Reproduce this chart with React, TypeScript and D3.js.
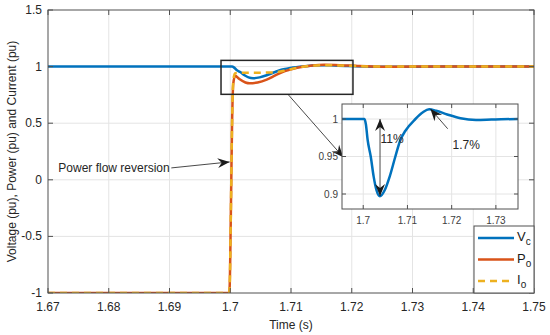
import React, { useEffect, useRef } from "react";
import * as d3 from "d3";

// axis ticks
const xTicks = [1.67, 1.68, 1.69, 1.7, 1.71, 1.72, 1.73, 1.74, 1.75];
const yTicks = [-1, -0.5, 0, 0.5, 1, 1.5];
const insetXTicks = [1.7, 1.71, 1.72, 1.73];
const insetYTicks = [0.9, 0.95, 1];

// Vc (capacitor voltage)
const vcTime = [1.67, 1.7003, 1.7006, 1.701, 1.7017, 1.70235, 1.703, 1.70377, 1.70485, 1.706, 1.70727, 1.7084, 1.7095, 1.7118, 1.7135, 1.7149, 1.7165, 1.719, 1.722, 1.7255, 1.729, 1.735, 1.75];
const vcValue = [1, 1, 0.993, 0.972, 0.95, 0.9235, 0.905, 0.897, 0.905, 0.9235, 0.95, 0.972, 0.984, 1.0, 1.009, 1.0129, 1.011, 1.006, 1.001, 0.9988, 0.9992, 1.0, 1.0];

// Po (power)
const poTime = [1.67, 1.6998, 1.6999, 1.7001, 1.7003, 1.7005, 1.7008, 1.7015, 1.7025, 1.7032, 1.7045, 1.706, 1.7075, 1.709, 1.711, 1.7135, 1.7155, 1.718, 1.721, 1.725, 1.73, 1.75];
const poValue = [-1, -1, -0.95, -0.3, 0.5, 0.85, 0.92, 0.89, 0.86, 0.852, 0.86, 0.885, 0.925, 0.96, 0.99, 1.01, 1.016, 1.013, 1.005, 0.999, 1.0, 1.0];

// Io (current)
const ioTime = [1.67, 1.6998, 1.6999, 1.7001, 1.7003, 1.7005, 1.7008, 1.702, 1.704, 1.706, 1.7073, 1.709, 1.711, 1.7135, 1.7155, 1.718, 1.721, 1.725, 1.73, 1.75];
const ioValue = [-1, -1, -0.95, -0.3, 0.5, 0.88, 0.942, 0.945, 0.946, 0.947, 0.95, 0.965, 0.99, 1.008, 1.012, 1.01, 1.004, 1.0, 1.0, 1.0];

const BLUE = "#0072BD", ORANGE = "#D95319", YELLOW = "#EDB120";
const FONT = "Liberation Sans, Arial, sans-serif";

export default function App() {
  const ref = useRef<SVGSVGElement>(null);

  useEffect(() => {
    const svg = d3.select(ref.current);
    svg.selectAll("*").remove();

    const x = d3.scaleLinear().domain([1.67, 1.75]).range([48, 534]);
    const y = d3.scaleLinear().domain([-1, 1.5]).range([293, 10]);

    const defs = svg.append("defs");
    defs.append("clipPath").attr("id", "mainClip")
      .append("rect").attr("x", 48).attr("y", 10).attr("width", 486).attr("height", 283);
    defs.append("clipPath").attr("id", "insetClip")
      .append("rect").attr("x", 342).attr("y", 104).attr("width", 176).attr("height", 105);
    defs.append("marker").attr("id", "head").attr("viewBox", "-13 -6 15 12")
      .attr("markerWidth", 15).attr("markerHeight", 12).attr("refX", 0).attr("refY", 0)
      .attr("orient", "auto-start-reverse").attr("markerUnits", "userSpaceOnUse")
      .append("path").attr("d", "M0,0 L-12,-5 L-8,0 L-12,5 Z").attr("fill", "#1a1a1a");

    svg.append("rect").attr("x", 0).attr("y", 0).attr("width", 550).attr("height", 335).attr("fill", "#fff");

    // grid
    const grid = svg.append("g").attr("stroke", "#e4e4e4").attr("stroke-width", 1);
    xTicks.slice(1, -1).forEach(t => grid.append("line").attr("x1", x(t)).attr("x2", x(t)).attr("y1", 10).attr("y2", 293));
    yTicks.slice(1, -1).forEach(t => grid.append("line").attr("y1", y(t)).attr("y2", y(t)).attr("x1", 48).attr("x2", 534));

    // curves
    const line = (ts: number[], vs: number[], sx, sy) =>
      d3.line<number>().x((d, i) => sx(ts[i])).y((d, i) => sy(vs[i])).curve(d3.curveMonotoneX)(vs);

    const plot = svg.append("g").attr("clip-path", "url(#mainClip)").attr("fill", "none");
    plot.append("path").attr("d", line(vcTime, vcValue, x, y)).attr("stroke", BLUE).attr("stroke-width", 2.5);
    plot.append("path").attr("d", line(poTime, poValue, x, y)).attr("stroke", ORANGE).attr("stroke-width", 2.5);
    plot.append("path").attr("d", line(ioTime, ioValue, x, y)).attr("stroke", YELLOW).attr("stroke-width", 2.5)
      .attr("stroke-dasharray", "7,5");

    // axes box and ticks
    const axes = svg.append("g").attr("stroke", "#505050").attr("stroke-width", 1);
    axes.append("rect").attr("x", 48).attr("y", 10).attr("width", 486).attr("height", 283).attr("fill", "none");
    xTicks.forEach(t => {
      axes.append("line").attr("x1", x(t)).attr("x2", x(t)).attr("y1", 293).attr("y2", 288);
      axes.append("line").attr("x1", x(t)).attr("x2", x(t)).attr("y1", 10).attr("y2", 15);
    });
    yTicks.forEach(t => {
      axes.append("line").attr("y1", y(t)).attr("y2", y(t)).attr("x1", 48).attr("x2", 53);
      axes.append("line").attr("y1", y(t)).attr("y2", y(t)).attr("x1", 534).attr("x2", 529);
    });

    const labels = svg.append("g").attr("font-family", FONT).attr("font-size", 12).attr("fill", "#262626");
    xTicks.forEach(t => labels.append("text").attr("x", x(t)).attr("y", 311).attr("text-anchor", "middle").text(String(t)));
    yTicks.forEach(t => labels.append("text").attr("x", 42).attr("y", y(t) + 4).attr("text-anchor", "end").text(String(t)));
    labels.append("text").attr("x", 291).attr("y", 329).attr("text-anchor", "middle").text("Time (s)");
    labels.append("text").attr("transform", `translate(16,${(10 + 293) / 2}) rotate(-90)`).attr("text-anchor", "middle")
      .text("Voltage (pu), Power (pu) and Current (pu)");

    // zoom box on main plot
    svg.append("rect").attr("x", x(1.69848)).attr("y", y(1.055)).attr("width", x(1.7202) - x(1.69848))
      .attr("height", y(0.755) - y(1.055)).attr("fill", "none").attr("stroke", "#262626").attr("stroke-width", 1.5);

    // annotations on main plot
    const ann = svg.append("g").attr("stroke", "#1a1a1a").attr("stroke-width", 0.8).attr("fill", "none");
    ann.append("line").attr("x1", x(1.6903)).attr("y1", y(0.105)).attr("x2", x(1.6999)).attr("y2", y(0.158))
      .attr("marker-end", "url(#head)");
    ann.append("line").attr("x1", x(1.7095)).attr("y1", y(0.755)).attr("x2", x(1.7186)).attr("y2", y(0.2))
      .attr("marker-end", "url(#head)");
    labels.append("text").attr("x", x(1.6902) - 1).attr("y", y(0.07)).attr("text-anchor", "end").text("Power flow reversion");

    // inset
    const ix = d3.scaleLinear().domain([1.6952, 1.735]).range([342, 518]);
    const iy = d3.scaleLinear().domain([0.88, 1.02]).range([209, 104]);
    const inset = svg.append("g");
    inset.append("rect").attr("x", 342).attr("y", 104).attr("width", 176).attr("height", 105).attr("fill", "#fff");
    const ig = inset.append("g").attr("stroke", "#e4e4e4");
    insetXTicks.forEach(t => ig.append("line").attr("x1", ix(t)).attr("x2", ix(t)).attr("y1", 104).attr("y2", 209));
    insetYTicks.forEach(t => ig.append("line").attr("y1", iy(t)).attr("y2", iy(t)).attr("x1", 342).attr("x2", 518));
    inset.append("g").attr("clip-path", "url(#insetClip)").append("path")
      .attr("d", line(vcTime, vcValue, ix, iy)).attr("fill", "none").attr("stroke", BLUE).attr("stroke-width", 2.5);
    const ia = inset.append("g").attr("stroke", "#505050");
    ia.append("rect").attr("x", 342).attr("y", 104).attr("width", 176).attr("height", 105).attr("fill", "none");
    insetXTicks.forEach(t => {
      ia.append("line").attr("x1", ix(t)).attr("x2", ix(t)).attr("y1", 209).attr("y2", 205);
      ia.append("line").attr("x1", ix(t)).attr("x2", ix(t)).attr("y1", 104).attr("y2", 108);
    });
    insetYTicks.forEach(t => {
      ia.append("line").attr("y1", iy(t)).attr("y2", iy(t)).attr("x1", 342).attr("x2", 346);
      ia.append("line").attr("y1", iy(t)).attr("y2", iy(t)).attr("x1", 518).attr("x2", 514);
    });
    const il = inset.append("g").attr("font-family", FONT).attr("font-size", 10).attr("fill", "#404040");
    insetXTicks.forEach(t => il.append("text").attr("x", ix(t)).attr("y", 224).attr("text-anchor", "middle").text(String(t)));
    insetYTicks.forEach(t => il.append("text").attr("x", 338).attr("y", iy(t) + 3.5).attr("text-anchor", "end").text(String(t)));

    // inset annotations
    const ina = inset.append("g").attr("stroke", "#1a1a1a").attr("stroke-width", 0.8).attr("fill", "none");
    ina.append("line").attr("x1", ix(1.7038)).attr("x2", ix(1.7038)).attr("y1", iy(1.0)).attr("y2", iy(0.8975))
      .attr("marker-start", "url(#head)").attr("marker-end", "url(#head)");
    ina.append("line").attr("x1", ix(1.7191)).attr("y1", iy(0.987)).attr("x2", ix(1.7152)).attr("y2", iy(1.0135))
      .attr("marker-end", "url(#head)");
    const it = inset.append("g").attr("font-family", FONT).attr("font-size", 12).attr("fill", "#262626");
    it.append("text").attr("x", ix(1.7039)).attr("y", iy(0.9683)).text("11%");
    it.append("text").attr("x", ix(1.7202)).attr("y", iy(0.9604)).text("1.7%");

    // legend
    const lg = svg.append("g");
    lg.append("rect").attr("x", 474).attr("y", 226).attr("width", 60).attr("height", 67)
      .attr("fill", "#fff").attr("stroke", "#505050");
    const items = [
      { name: "V", sub: "c", color: BLUE, dash: null },
      { name: "P", sub: "o", color: ORANGE, dash: null },
      { name: "I", sub: "o", color: YELLOW, dash: "7,5" },
    ];
    items.forEach((d, i) => {
      const yy = 238 + i * 21.5;
      lg.append("line").attr("x1", 478).attr("x2", 514).attr("y1", yy).attr("y2", yy)
        .attr("stroke", d.color).attr("stroke-width", 2.5).attr("stroke-dasharray", d.dash);
      const t = lg.append("text").attr("x", 517).attr("y", yy + 3).attr("font-family", FONT)
        .attr("font-size", 13).attr("fill", "#1a1a1a");
      t.append("tspan").text(d.name);
      t.append("tspan").attr("dy", 4).attr("font-size", 10).text(d.sub);
    });
  }, []);

  return (
    <svg ref={ref} width={550} height={335} style={{ position: "absolute", left: 0, top: 0 }} />
  );
}
